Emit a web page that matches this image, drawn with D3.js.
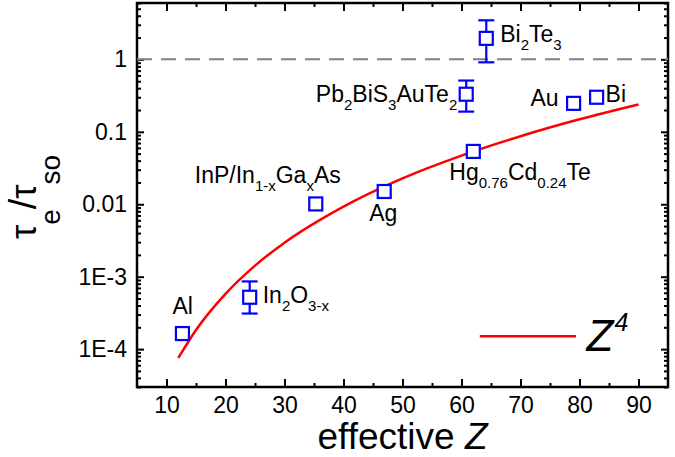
<!DOCTYPE html>
<html>
<head>
<meta charset="utf-8">
<script src="https://cdn.jsdelivr.net/npm/d3@7"></script>
<style>
  body { margin: 0; background: #fff; }
  text { font-family: "Liberation Sans", Arial, sans-serif; fill: #000; }
</style>
</head>
<body>
<div id="chart"></div>
<script>
// data
var names = ["Al", "In2O3-x", "InP/In1-xGaxAs", "Ag", "Hg0.76Cd0.24Te", "Pb2BiS3AuTe2", "Bi2Te3", "Au", "Bi"];
var zValues = [12.7, 24.1, 35.3, 46.9, 62.0, 60.8, 64.2, 79.0, 82.9];
var ratio = [1.64e-4, 5.2e-4, 0.0101, 0.0150, 0.0536, 0.33, 1.95, 0.247, 0.30];
var errLow = [null, 3.1e-4, null, null, null, 0.19, 0.91, null, null];
var errHigh = [null, 8.6e-4, null, null, null, 0.51, 3.46, null, null];

// label pieces: [text, isSubscript]
var labelParts = [
  [["Al", 0]],
  [["In", 0], ["2", 1], ["O", 0], ["3-x", 1]],
  [["InP/In", 0], ["1-x", 1], ["Ga", 0], ["x", 1], ["As", 0]],
  [["Ag", 0]],
  [["Hg", 0], ["0.76", 1], ["Cd", 0], ["0.24", 1], ["Te", 0]],
  [["Pb", 0], ["2", 1], ["BiS", 0], ["3", 1], ["AuTe", 0], ["2", 1]],
  [["Bi", 0], ["2", 1], ["Te", 0], ["3", 1]],
  [["Au", 0]],
  [["Bi", 0]]
];

// Z^4 reference curve
var curveZ = [12, 15, 20, 25, 30, 40, 50, 60, 70, 80, 90];
var curveRatio = [7.55e-5, 1.84e-4, 5.8e-4, 1.42e-3, 2.95e-3, 9.3e-3, 0.0228, 0.047, 0.087, 0.149, 0.239];

var xTicks = [10, 20, 30, 40, 50, 60, 70, 80, 90];
var xMinor = [15, 25, 35, 45, 55, 65, 75, 85];
var yTicks = [1e-4, 1e-3, 0.01, 0.1, 1];
var yTickLabels = ["1E-4", "1E-3", "0.01", "0.1", "1"];

// layout
var W = 675, H = 457;
var margin = {top: 3, right: 7, bottom: 70, left: 137},
    width = W - margin.left - margin.right,
    height = H - margin.top - margin.bottom;

// label offsets from point (px): dx, dy, anchor
var labelPos = [
  [-10, -20, "start"],
  [13, 6, "start"],
  [25, -21, "end"],
  [-15, 30, "start"],
  [-24, 29, "start"],
  [-9, 8, "end"],
  [14, 4, "start"],
  [-15, 3, "end"],
  [9, 5, "start"]
];

var svg = d3.select("#chart").append("svg")
    .attr("width", W)
    .attr("height", H);

var g = svg.append("g")
    .attr("transform", "translate(" + margin.left + "," + margin.top + ")");

var x = d3.scaleLinear().domain([5, 95]).range([0, width]);
var y = d3.scaleLog().domain([3e-5, 6]).range([height, 0]);

var yMinor = [];
for (var e = -5; e <= 0; e++) {
  for (var m = 2; m <= 9; m++) {
    var v = m * Math.pow(10, e);
    if (v >= 3e-5 && v <= 6) yMinor.push(v);
  }
}

// axes (ticks inward)
function styleAxis(sel) {
  sel.select(".domain").remove();
  sel.selectAll(".tick line").attr("stroke", "#000").attr("stroke-width", 2);
  sel.selectAll(".tick text").style("font-size", "23px")
    .style("font-family", "'Liberation Sans', Arial, sans-serif").attr("fill", "#000");
}

g.append("g").attr("transform", "translate(0," + height + ")")
  .call(d3.axisBottom(x).tickValues(xTicks).tickSize(-8).tickPadding(10).tickFormat(d3.format("d")))
  .call(styleAxis);
g.append("g").attr("transform", "translate(0," + height + ")")
  .call(d3.axisBottom(x).tickValues(xMinor).tickSize(-4).tickFormat(""))
  .call(styleAxis);
g.append("g")
  .call(d3.axisTop(x).tickValues(xTicks).tickSize(-8).tickFormat(""))
  .call(styleAxis);
g.append("g")
  .call(d3.axisTop(x).tickValues(xMinor).tickSize(-4).tickFormat(""))
  .call(styleAxis);

g.append("g")
  .call(d3.axisLeft(y).tickValues(yTicks).tickSize(-7).tickPadding(10)
    .tickFormat(function(d, i) { return yTickLabels[i]; }))
  .call(styleAxis);
g.append("g")
  .call(d3.axisLeft(y).tickValues(yMinor).tickSize(-4).tickFormat(""))
  .call(styleAxis);
g.append("g").attr("transform", "translate(" + width + ",0)")
  .call(d3.axisRight(y).tickValues(yTicks).tickSize(-7).tickFormat(""))
  .call(styleAxis);
g.append("g").attr("transform", "translate(" + width + ",0)")
  .call(d3.axisRight(y).tickValues(yMinor).tickSize(-4).tickFormat(""))
  .call(styleAxis);

// frame
g.append("rect")
  .attr("x", 0).attr("y", 0)
  .attr("width", width).attr("height", height)
  .attr("fill", "none").attr("stroke", "#000").attr("stroke-width", 2.5);

// dashed line at 1
g.append("line")
  .attr("x1", 0).attr("x2", width)
  .attr("y1", y(1)).attr("y2", y(1))
  .attr("stroke", "#808080").attr("stroke-width", 2)
  .attr("stroke-dasharray", "15,9");

// Z^4 curve
var line = d3.line()
  .x(function(d, i) { return x(curveZ[i]); })
  .y(function(d) { return y(d); })
  .curve(d3.curveMonotoneX);

g.append("path")
  .attr("d", line(curveRatio))
  .attr("fill", "none").attr("stroke", "#ff0000").attr("stroke-width", 2.5);

// error bars
var blue = "#0000ff";
var eb = g.append("g").attr("stroke", blue).attr("stroke-width", 2.2);
zValues.forEach(function(z, i) {
  if (errLow[i] == null) return;
  var cx = x(z);
  eb.append("line").attr("x1", cx).attr("x2", cx).attr("y1", y(errLow[i])).attr("y2", y(errHigh[i]));
  eb.append("line").attr("x1", cx - 8).attr("x2", cx + 8).attr("y1", y(errLow[i])).attr("y2", y(errLow[i]));
  eb.append("line").attr("x1", cx - 8).attr("x2", cx + 8).attr("y1", y(errHigh[i])).attr("y2", y(errHigh[i]));
});

// squares
var s = 13;
g.selectAll("rect.pt")
  .data(zValues)
  .enter().append("rect")
  .attr("class", "pt")
  .attr("x", function(d) { return x(d) - s / 2; })
  .attr("y", function(d, i) { return y(ratio[i]) - s / 2; })
  .attr("width", s).attr("height", s)
  .attr("fill", "#fff").attr("stroke", blue).attr("stroke-width", 2.2);

// point labels
zValues.forEach(function(z, i) {
  var p = labelPos[i];
  var t = g.append("text")
    .attr("x", x(z) + p[0])
    .attr("y", y(ratio[i]) + p[1])
    .attr("text-anchor", p[2])
    .style("font-size", "23px");
  var down = false;
  labelParts[i].forEach(function(part) {
    var ts = t.append("tspan").text(part[0]);
    if (part[1]) {
      ts.style("font-size", "15px");
      if (!down) { ts.attr("dy", 8); down = true; }
    } else if (down) {
      ts.attr("dy", -8); down = false;
    }
  });
});

// legend
g.append("line")
  .attr("x1", x(63.1)).attr("x2", x(79.4))
  .attr("y1", y(1.5e-4)).attr("y2", y(1.5e-4))
  .attr("stroke", "#ff0000").attr("stroke-width", 2.5);
var lt = g.append("text")
  .attr("x", x(81.2)).attr("y", y(1.5e-4) + 15)
  .style("font-size", "44px").style("font-style", "italic");
lt.append("tspan").text("Z");
lt.append("tspan").text("4").style("font-size", "25px").attr("dy", -20).attr("dx", 1);

// axis titles
var xt = svg.append("text")
  .attr("x", margin.left + width / 2).attr("y", 449)
  .attr("text-anchor", "middle")
  .style("font-size", "37px");
xt.append("tspan").text("effective ");
xt.append("tspan").text("Z").style("font-style", "italic");

var yt = svg.append("text")
  .attr("transform", "translate(36,197) rotate(-90)")
  .attr("text-anchor", "middle")
  .style("font-size", "36px");
yt.append("tspan").text("τ");
yt.append("tspan").text("e").style("font-size", "28px").attr("dy", 24);
yt.append("tspan").text("/").style("font-size", "38px").attr("dy", -24);
yt.append("tspan").text("τ");
yt.append("tspan").text("so").style("font-size", "28px").attr("dy", 24);
</script>
</body>
</html>
